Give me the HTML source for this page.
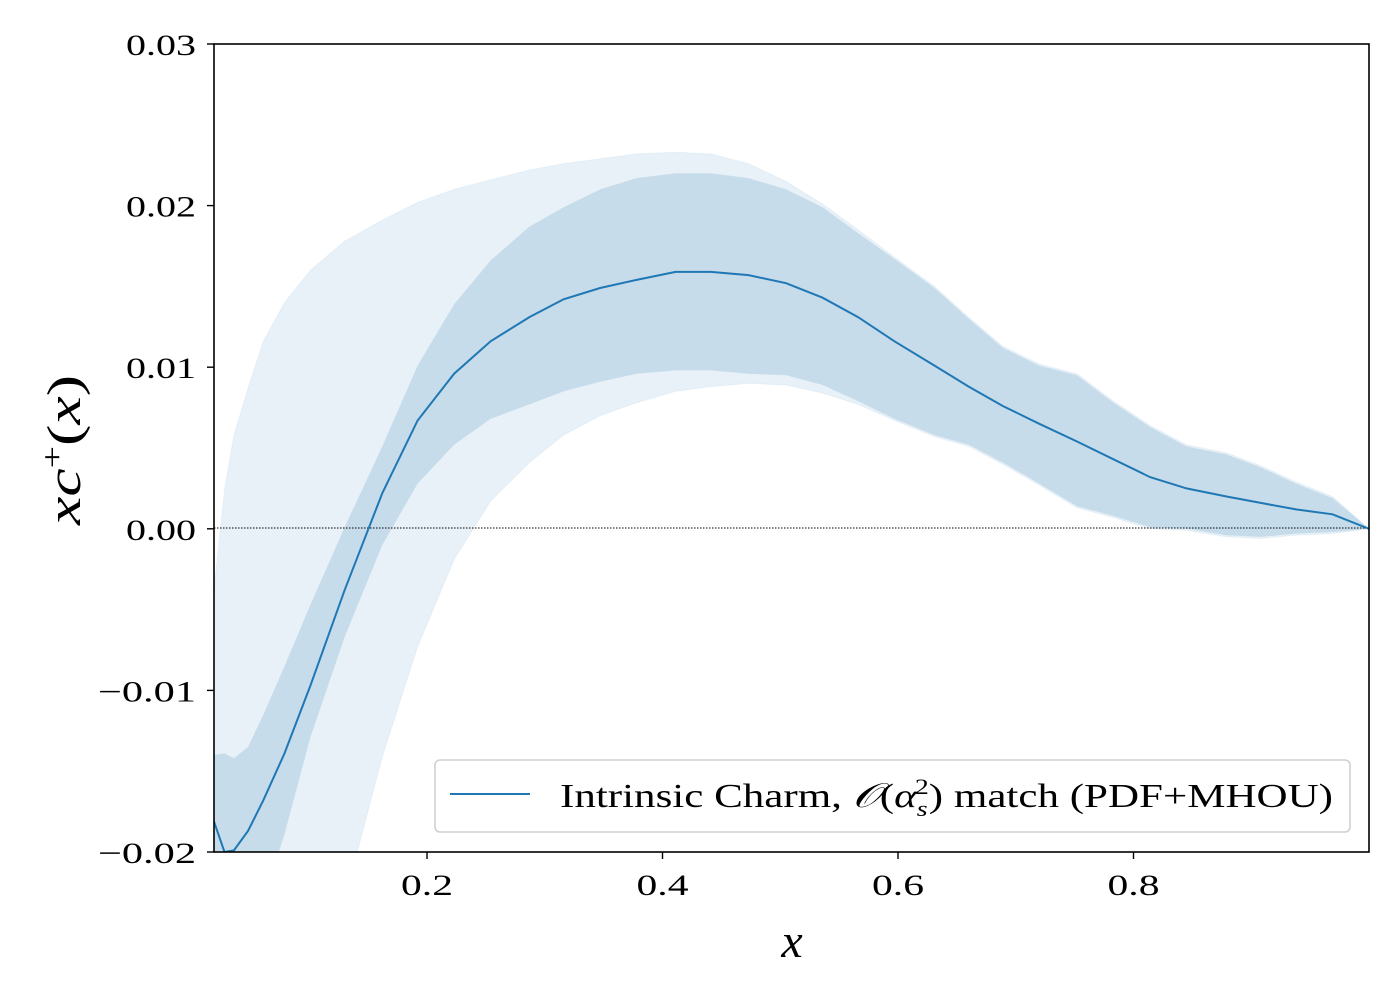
<!DOCTYPE html>
<html><head><meta charset="utf-8"><style>
html,body{margin:0;padding:0;background:#fff;width:1400px;height:1000px;overflow:hidden;}
svg{display:block;}
text{font-family:"Liberation Serif","DejaVu Serif",serif;fill:#000;}
</style></head><body>
<svg id="chart" width="1400" height="1000" viewBox="0 0 1400 1000" xmlns="http://www.w3.org/2000/svg">
<defs><clipPath id="plotclip"><rect x="214" y="44" width="1155" height="808"/></clipPath></defs>
<g id="bands" clip-path="url(#plotclip)"></g>
<line x1="214" y1="528" x2="1369" y2="528" stroke="#000" stroke-width="1" stroke-dasharray="1.5,1.5"/>
<g id="lines" clip-path="url(#plotclip)"></g>
<rect x="214" y="44" width="1155" height="808" fill="none" stroke="#000" stroke-width="1.6"/>
<g id="xticks"></g>
<g id="yticks"></g>
<text x="792" y="957" font-size="48" font-style="italic" text-anchor="middle">x</text>
<text transform="translate(80,450) rotate(-90)" font-size="48" font-style="italic" text-anchor="middle" textLength="150" lengthAdjust="spacingAndGlyphs">xc<tspan font-style="normal" font-size="30" dy="-18">+</tspan><tspan font-style="normal" dy="18">(</tspan>x<tspan font-style="normal">)</tspan></text>
<g>
<rect x="435" y="760" width="915" height="72" rx="5" fill="#fff" fill-opacity="0.85" stroke="#d0d0d0" stroke-width="1.6"/>
<line x1="450" y1="794" x2="530" y2="794" stroke="#1f77b4" stroke-width="2"/>
<text x="560" y="807" font-size="34" textLength="773" lengthAdjust="spacingAndGlyphs">Intrinsic Charm, <tspan font-style="italic">𝒪</tspan>(<tspan font-style="italic">α</tspan><tspan font-style="italic" font-size="22" dy="9">s</tspan><tspan font-size="22" dx="-10" dy="-22">2</tspan><tspan dy="13">) match (PDF+MHOU)</tspan></text>
</g>
</svg>
<script>
const xs = [0.019,0.028,0.036,0.048,0.061,0.079,0.101,0.130,0.162,0.192,0.223,0.254,0.287,0.316,0.347,0.378,0.411,0.441,0.473,0.505,0.536,0.566,0.597,0.631,0.660,0.689,0.720,0.752,0.783,0.814,0.845,0.879,0.908,0.938,0.969,1.0];
const central = [-0.0181,-0.0200,-0.0199,-0.0187,-0.0168,-0.0139,-0.0097,-0.0038,0.0022,0.0067,0.0096,0.0116,0.0131,0.0142,0.0149,0.0154,0.0159,0.0159,0.0157,0.0152,0.0143,0.0131,0.0116,0.0101,0.0088,0.0076,0.0065,0.0054,0.0043,0.0032,0.0025,0.0020,0.0016,0.0012,0.0009,0.0];
const pdfUpper = [-0.0140,-0.0139,-0.0142,-0.0135,-0.0115,-0.0085,-0.0047,0.0001,0.0051,0.0101,0.0139,0.0166,0.0187,0.0199,0.0210,0.0217,0.0220,0.0220,0.0217,0.0210,0.0199,0.0183,0.0167,0.0149,0.0130,0.0112,0.0101,0.0095,0.0078,0.0063,0.0051,0.0046,0.0038,0.0028,0.0019,0.0];
const pdfLower = [-0.023,-0.025,-0.025,-0.026,-0.024,-0.0189,-0.0129,-0.0067,-0.0010,0.0028,0.0052,0.0068,0.0077,0.0085,0.0091,0.0096,0.0098,0.0098,0.0096,0.0095,0.0089,0.0079,0.0068,0.0058,0.0052,0.0041,0.0028,0.0014,0.0008,0.0001,0.0,-0.0004,-0.0005,-0.0003,-0.0002,0.0];
const totUpper = [-0.0038,0.0024,0.0058,0.0087,0.0116,0.0140,0.0160,0.0178,0.0191,0.0202,0.0210,0.0216,0.0222,0.0226,0.0229,0.0232,0.0233,0.0232,0.0226,0.0215,0.0201,0.0185,0.0168,0.0150,0.0131,0.0113,0.0102,0.0096,0.0079,0.0064,0.0052,0.0047,0.0039,0.0029,0.0020,0.0];
const totLower = [-0.040,-0.045,-0.046,-0.045,-0.043,-0.040,-0.035,-0.027,-0.0141,-0.0073,-0.0019,0.0017,0.0041,0.0058,0.0070,0.0078,0.0085,0.0088,0.0090,0.0089,0.0084,0.0077,0.0067,0.0057,0.0051,0.0040,0.0027,0.0013,0.0007,0.0,-0.0001,-0.0005,-0.0006,-0.0004,-0.0003,0.0];
const xTickVals = [0.2,0.4,0.6,0.8];
const xTickLabels = ["0.2","0.4","0.6","0.8"];
const yTickVals = [-0.02,-0.01,0.0,0.01,0.02,0.03];
const yTickLabels = ["\u22120.02","\u22120.01","0.00","0.01","0.02","0.03"];

const X0=214, X1=1369, Y0=852, Y1=44;
const xmin=0.0191, xmax=1.0, ymin=-0.02, ymax=0.03;
function sx(v){return X0+(v-xmin)/(xmax-xmin)*(X1-X0);}
function sy(v){return Y0-(v-ymin)/(ymax-ymin)*(Y0-Y1);}
function syc(v){return sy(Math.max(v, ymin-0.003));}
const NS="http://www.w3.org/2000/svg";
function bandPath(up,lo){
  let d="";
  for(let i=0;i<xs.length;i++) d+=(i?"L":"M")+sx(xs[i]).toFixed(1)+","+syc(up[i]).toFixed(1);
  for(let i=xs.length-1;i>=0;i--) d+="L"+sx(xs[i]).toFixed(1)+","+syc(lo[i]).toFixed(1);
  return d+"Z";
}
const bands=document.getElementById('bands');
const b1=document.createElementNS(NS,'path');
b1.setAttribute('d',bandPath(totUpper,totLower));
b1.setAttribute('fill','#1f77b4');b1.setAttribute('fill-opacity','0.1');
b1.setAttribute('stroke','#1f77b4');b1.setAttribute('stroke-opacity','0.06');


bands.appendChild(b1);
const b2=document.createElementNS(NS,'path');
b2.setAttribute('d',bandPath(pdfUpper,pdfLower));
b2.setAttribute('fill','#1f77b4');b2.setAttribute('fill-opacity','0.17');


bands.appendChild(b2);
const ln=document.createElementNS(NS,'polyline');
ln.setAttribute('points',xs.map((x,i)=>sx(x).toFixed(1)+","+syc(central[i]).toFixed(1)).join(" "));
ln.setAttribute('fill','none');ln.setAttribute('stroke','#1f77b4');ln.setAttribute('stroke-width','2');


document.getElementById('lines').appendChild(ln);

const xt=document.getElementById('xticks');
xTickVals.forEach((v,i)=>{
  const x=sx(v);
  const t=document.createElementNS(NS,'line');
  t.setAttribute('x1',x);t.setAttribute('x2',x);t.setAttribute('y1',852);t.setAttribute('y2',859);
  t.setAttribute('stroke','#000');t.setAttribute('stroke-width','1.4');
  
  
  xt.appendChild(t);
  const l=document.createElementNS(NS,'text');
  l.setAttribute('x',x);l.setAttribute('y',895);l.setAttribute('font-size','30');l.setAttribute('text-anchor','middle');
  l.setAttribute('textLength','52');l.setAttribute('lengthAdjust','spacingAndGlyphs');
  l.textContent=xTickLabels[i];
  
  
  xt.appendChild(l);
});
const yt=document.getElementById('yticks');
yTickVals.forEach((v,i)=>{
  const y=sy(v);
  const t=document.createElementNS(NS,'line');
  t.setAttribute('x1',207);t.setAttribute('x2',214);t.setAttribute('y1',y);t.setAttribute('y2',y);
  t.setAttribute('stroke','#000');t.setAttribute('stroke-width','1.4');
  
  
  yt.appendChild(t);
  const l=document.createElementNS(NS,'text');
  l.setAttribute('x',196);l.setAttribute('y',y+11);l.setAttribute('font-size','30');l.setAttribute('text-anchor','end');
  l.setAttribute('textLength', v<0 ? '98' : '70');l.setAttribute('lengthAdjust','spacingAndGlyphs');
  l.textContent=yTickLabels[i];
  
  
  yt.appendChild(l);
});
</script>
</body></html>
